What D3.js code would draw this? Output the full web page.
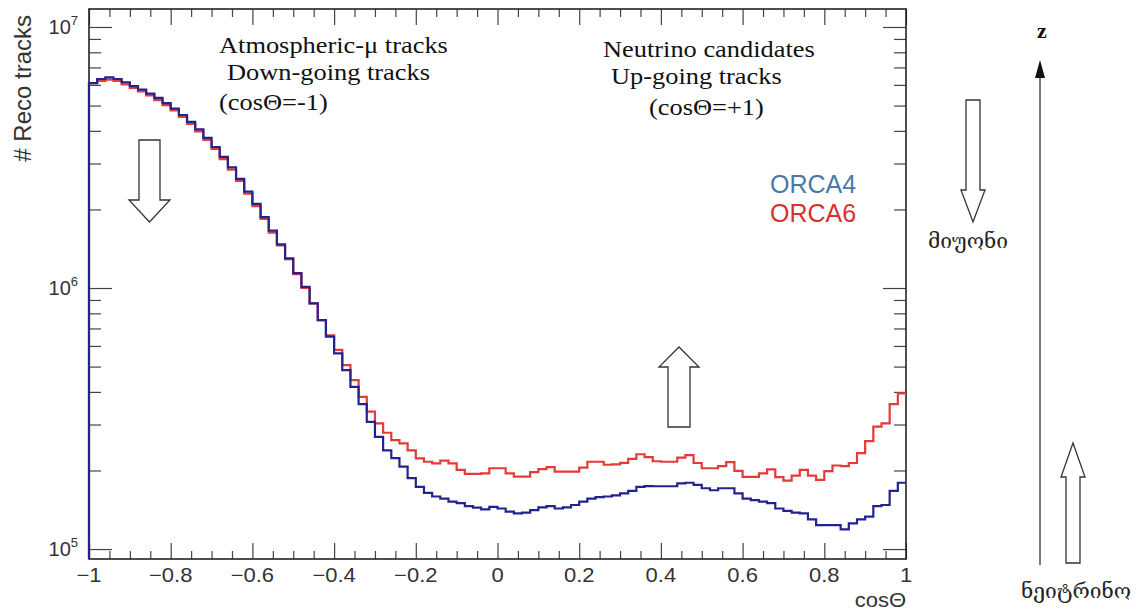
<!DOCTYPE html>
<html><head><meta charset="utf-8">
<script src="https://cdn.jsdelivr.net/npm/d3@7"></script>
<style>body{margin:0;background:#fff}svg{display:block}</style>
</head><body>
<svg id="chart" width="1136" height="612"></svg>
<script>
// ---- data ----
const binLowEdges = d3.range(100).map(i => +(-1 + i * 0.02).toFixed(2));
const orca4 = [
 6.10e6,6.32e6,6.41e6,6.32e6,6.13e6,5.94e6,5.76e6,5.56e6,5.35e6,5.11e6,
 4.87e6,4.60e6,4.33e6,4.05e6,3.76e6,3.47e6,3.18e6,2.90e6,2.62e6,2.34e6,
 2.10e6,1.87e6,1.66e6,1.47e6,1.30e6,1.14e6,1.01e6,8.74e5,7.54e5,6.51e5,
 5.62e5,4.85e5,4.18e5,3.59e5,3.07e5,2.69e5,2.39e5,2.23e5,2.07e5,1.87e5,
 1.73e5,1.64e5,1.59e5,1.56e5,1.52e5,1.50e5,1.46e5,1.44e5,1.42e5,1.45e5,
 1.43e5,1.39e5,1.37e5,1.38e5,1.41e5,1.445e5,1.46e5,1.43e5,1.445e5,1.475e5,
 1.52e5,1.56e5,1.58e5,1.59e5,1.606e5,1.635e5,1.67e5,1.73e5,1.743e5,1.74e5,
 1.74e5,1.74e5,1.785e5,1.795e5,1.76e5,1.71e5,1.68e5,1.71e5,1.71e5,1.635e5,
 1.56e5,1.54e5,1.52e5,1.50e5,1.43e5,1.40e5,1.38e5,1.37e5,1.30e5,1.236e5,
 1.236e5,1.236e5,1.19e5,1.255e5,1.30e5,1.33e5,1.46e5,1.475e5,1.67e5,1.795e5
];
const orca6 = [
 6.10e6,6.21e6,6.29e6,6.21e6,6.02e6,5.84e6,5.66e6,5.47e6,5.25e6,5.02e6,
 4.79e6,4.52e6,4.25e6,3.98e6,3.69e6,3.41e6,3.12e6,2.84e6,2.57e6,2.30e6,
 2.06e6,1.84e6,1.63e6,1.455e6,1.29e6,1.13e6,1.00e6,8.74e5,7.54e5,6.58e5,
 5.79e5,5.07e5,4.44e5,3.83e5,3.36e5,3.03e5,2.79e5,2.616e5,2.54e5,2.39e5,
 2.226e5,2.16e5,2.13e5,2.18e5,2.13e5,2.01e5,1.94e5,1.94e5,1.95e5,2.04e5,
 2.04e5,1.95e5,1.896e5,1.896e5,1.97e5,2.025e5,2.06e5,1.98e5,1.98e5,1.98e5,
 2.05e5,2.16e5,2.16e5,2.104e5,2.11e5,2.14e5,2.216e5,2.308e5,2.25e5,2.17e5,
 2.16e5,2.16e5,2.24e5,2.29e5,2.136e5,2.04e5,2.04e5,2.08e5,2.154e5,1.993e5,
 1.89e5,1.89e5,1.95e5,2.02e5,1.887e5,1.83e5,1.91e5,2.01e5,1.91e5,1.84e5,
 1.99e5,2.09e5,2.08e5,2.136e5,2.33e5,2.59e5,2.946e5,3.03e5,3.59e5,3.95e5
];
const seriesNames = ["ORCA4", "ORCA6"];
const xMajorTicks = [-1, -0.8, -0.6, -0.4, -0.2, 0, 0.2, 0.4, 0.6, 0.8, 1];
const xTickLabels = ["\u22121", "\u22120.8", "\u22120.6", "\u22120.4", "\u22120.2", "0", "0.2", "0.4", "0.6", "0.8", "1"];
const xMinorTicks = d3.range(-1, 1.0001, 0.05).map(v => +v.toFixed(2)).filter(v => !xMajorTicks.includes(v));
const yMajorTicks = [1e5, 1e6, 1e7];
const yTickExponents = ["5", "6", "7"];
const yMinorTicks = [2e5,3e5,4e5,5e5,6e5,7e5,8e5,9e5,2e6,3e6,4e6,5e6,6e6,7e6,8e6,9e6];
const xTitle = "cos\u0398";
const yTitle = "# Reco tracks";
const muonNote = ["Atmospheric-\u03bc tracks", "Down-going tracks", "(cos\u0398=-1)"];
const nuNote = ["Neutrino candidates", "Up-going tracks", "(cos\u0398=+1)"];

// ---- layout ----
const L = 89, R = 906, T = 9, B = 559;
const svg = d3.select("#chart");
const x = d3.scaleLinear().domain([-1, 1]).range([L, R]);
const y = d3.scaleLog().domain([9.16e4, 1.172e7]).range([B, T]);
const colors = {ORCA4: "#23238f", ORCA6: "#e33b36"};
const axisCol = "#444";

// histogram paths
function histPoints(vals) {
  const pts = [[-1, y.domain()[0]]];
  vals.forEach((v, i) => pts.push([binLowEdges[i], v]));
  pts.push([1, vals[vals.length - 1]]);
  return pts;
}
const line = d3.line().x(d => x(d[0])).y(d => y(d[1])).curve(d3.curveStepAfter);
svg.append("clipPath").attr("id", "pc").append("rect")
  .attr("x", L - 2).attr("y", T).attr("width", R - L + 2).attr("height", B - T);
const g = svg.append("g").attr("clip-path", "url(#pc)");
[["ORCA6", orca6], ["ORCA4", orca4]].forEach(([n, vals]) => {
  g.append("path").attr("d", line(histPoints(vals)))
    .attr("fill", "none").attr("stroke", colors[n]).attr("stroke-width", 2.2)
    .attr("stroke-linejoin", "miter");
});

// axes (ticks pointing inward, ROOT style)
function styleAxis(sel) {
  sel.select(".domain").remove();
  sel.selectAll("line").attr("stroke", axisCol).attr("stroke-width", 1.2);
  sel.selectAll("text").remove();
}
svg.append("g").attr("transform", `translate(0,${B})`)
  .call(d3.axisBottom(x).tickValues(xMajorTicks).tickSize(-16)).call(styleAxis);
svg.append("g").attr("transform", `translate(0,${B})`)
  .call(d3.axisBottom(x).tickValues(xMinorTicks).tickSize(-8)).call(styleAxis);
svg.append("g").attr("transform", `translate(0,${T})`)
  .call(d3.axisTop(x).tickValues(xMajorTicks).tickSize(-16)).call(styleAxis);
svg.append("g").attr("transform", `translate(0,${T})`)
  .call(d3.axisTop(x).tickValues(xMinorTicks).tickSize(-8)).call(styleAxis);
svg.append("g").attr("transform", `translate(${L},0)`)
  .call(d3.axisLeft(y).tickValues(yMajorTicks).tickSize(-23)).call(styleAxis);
svg.append("g").attr("transform", `translate(${L},0)`)
  .call(d3.axisLeft(y).tickValues(yMinorTicks).tickSize(-12)).call(styleAxis);
svg.append("g").attr("transform", `translate(${R},0)`)
  .call(d3.axisRight(y).tickValues(yMajorTicks).tickSize(-23)).call(styleAxis);
svg.append("g").attr("transform", `translate(${R},0)`)
  .call(d3.axisRight(y).tickValues(yMinorTicks).tickSize(-12)).call(styleAxis);

// frame
svg.append("rect").attr("x", L).attr("y", T).attr("width", R - L).attr("height", B - T)
  .attr("fill", "none").attr("stroke", "#222").attr("stroke-width", 1.6);
g.raise();

// tick labels
const sans = "'Liberation Sans', Arial, Helvetica, sans-serif";
svg.append("g").selectAll("text").data(xMajorTicks).join("text")
  .attr("transform", d => `translate(${x(d)},582) scale(1.1,1)`)
  .attr("text-anchor", "middle").attr("font-family", sans).attr("font-size", 20)
  .attr("fill", "#333").text((d, i) => xTickLabels[i]);
const yl = svg.append("g").selectAll("text").data(yMajorTicks).join("text")
  .attr("transform", d => `translate(78,${y(d) + 7})`)
  .attr("text-anchor", "end").attr("font-family", sans).attr("font-size", 20).attr("fill", "#333");
yl.append("tspan").text("10");
yl.append("tspan").attr("dy", -9).attr("font-size", 13).text((d, i) => yTickExponents[i]);

// axis titles
svg.append("text").attr("transform", `translate(${R},607) scale(1.1,1)`)
  .attr("text-anchor", "end").attr("font-family", sans).attr("font-size", 20).attr("fill", "#333").text(xTitle);
svg.append("text").attr("transform", `translate(31,15) rotate(-90)`)
  .attr("text-anchor", "end").attr("font-family", sans).attr("font-size", 24).attr("fill", "#333").text(yTitle);

// legend
svg.append("g").selectAll("text").data(seriesNames).join("text")
  .attr("x", 770).attr("y", (d, i) => 193 + i * 28.5)
  .attr("font-family", sans).attr("font-size", 25)
  .attr("fill", d => d === "ORCA4" ? "#4a78a8" : "#d9302c").text(d => d);

// annotations
const serif = "'Liberation Serif', 'DejaVu Serif', serif";
function noteBlock(lines, xs, ys) {
  svg.append("g").selectAll("text").data(lines).join("text")
    .attr("transform", (d, i) => `translate(${xs[i]},${ys[i]}) scale(1.1,1)`)
    .attr("font-family", serif).attr("font-size", 24).attr("fill", "#111").text(d => d);
}
noteBlock(muonNote, [219, 227, 219], [53, 80, 110]);
noteBlock(nuNote, [603, 611, 649], [57, 84, 115]);

// hollow block arrows
function blockArrow(cx, yTail, yHeadBase, yTip, shaftW, headW) {
  const p = d3.path();
  p.moveTo(cx - shaftW / 2, yTail);
  p.lineTo(cx + shaftW / 2, yTail);
  p.lineTo(cx + shaftW / 2, yHeadBase);
  p.lineTo(cx + headW / 2, yHeadBase);
  p.lineTo(cx, yTip);
  p.lineTo(cx - headW / 2, yHeadBase);
  p.lineTo(cx - shaftW / 2, yHeadBase);
  p.closePath();
  return p.toString();
}
const arrows = [
  [149.5, 140, 200, 222, 21, 41],
  [679, 427, 367, 347, 22, 40],
  [973, 100, 190, 222, 14, 24],
  [1073, 563, 477, 443, 14, 24]
];
svg.append("g").selectAll("path").data(arrows).join("path")
  .attr("d", d => blockArrow(...d)).attr("fill", "white").attr("stroke", "#333").attr("stroke-width", 1.3);

// z axis
svg.append("line").attr("x1", 1040).attr("x2", 1040).attr("y1", 76).attr("y2", 565)
  .attr("stroke", "#333").attr("stroke-width", 1.3);
svg.append("path").attr("d", "M1040,60 L1045,78 L1035,78 Z").attr("fill", "#111");
svg.append("text").attr("x", 1042).attr("y", 38).attr("text-anchor", "middle")
  .attr("font-family", serif).attr("font-size", 22).attr("font-weight", "bold").attr("fill", "#111").text("z");

// Georgian labels
const geo = "'DejaVu Serif', 'DejaVu Sans', serif";
svg.append("text").attr("x", 968).attr("y", 248).attr("text-anchor", "middle")
  .attr("font-family", geo).attr("font-size", 21).attr("fill", "#222").text("მიუონი");
svg.append("text").attr("x", 1076).attr("y", 598).attr("text-anchor", "middle")
  .attr("font-family", geo).attr("font-size", 21).attr("fill", "#222").text("ნეიტრინო");
</script>
</body></html>
